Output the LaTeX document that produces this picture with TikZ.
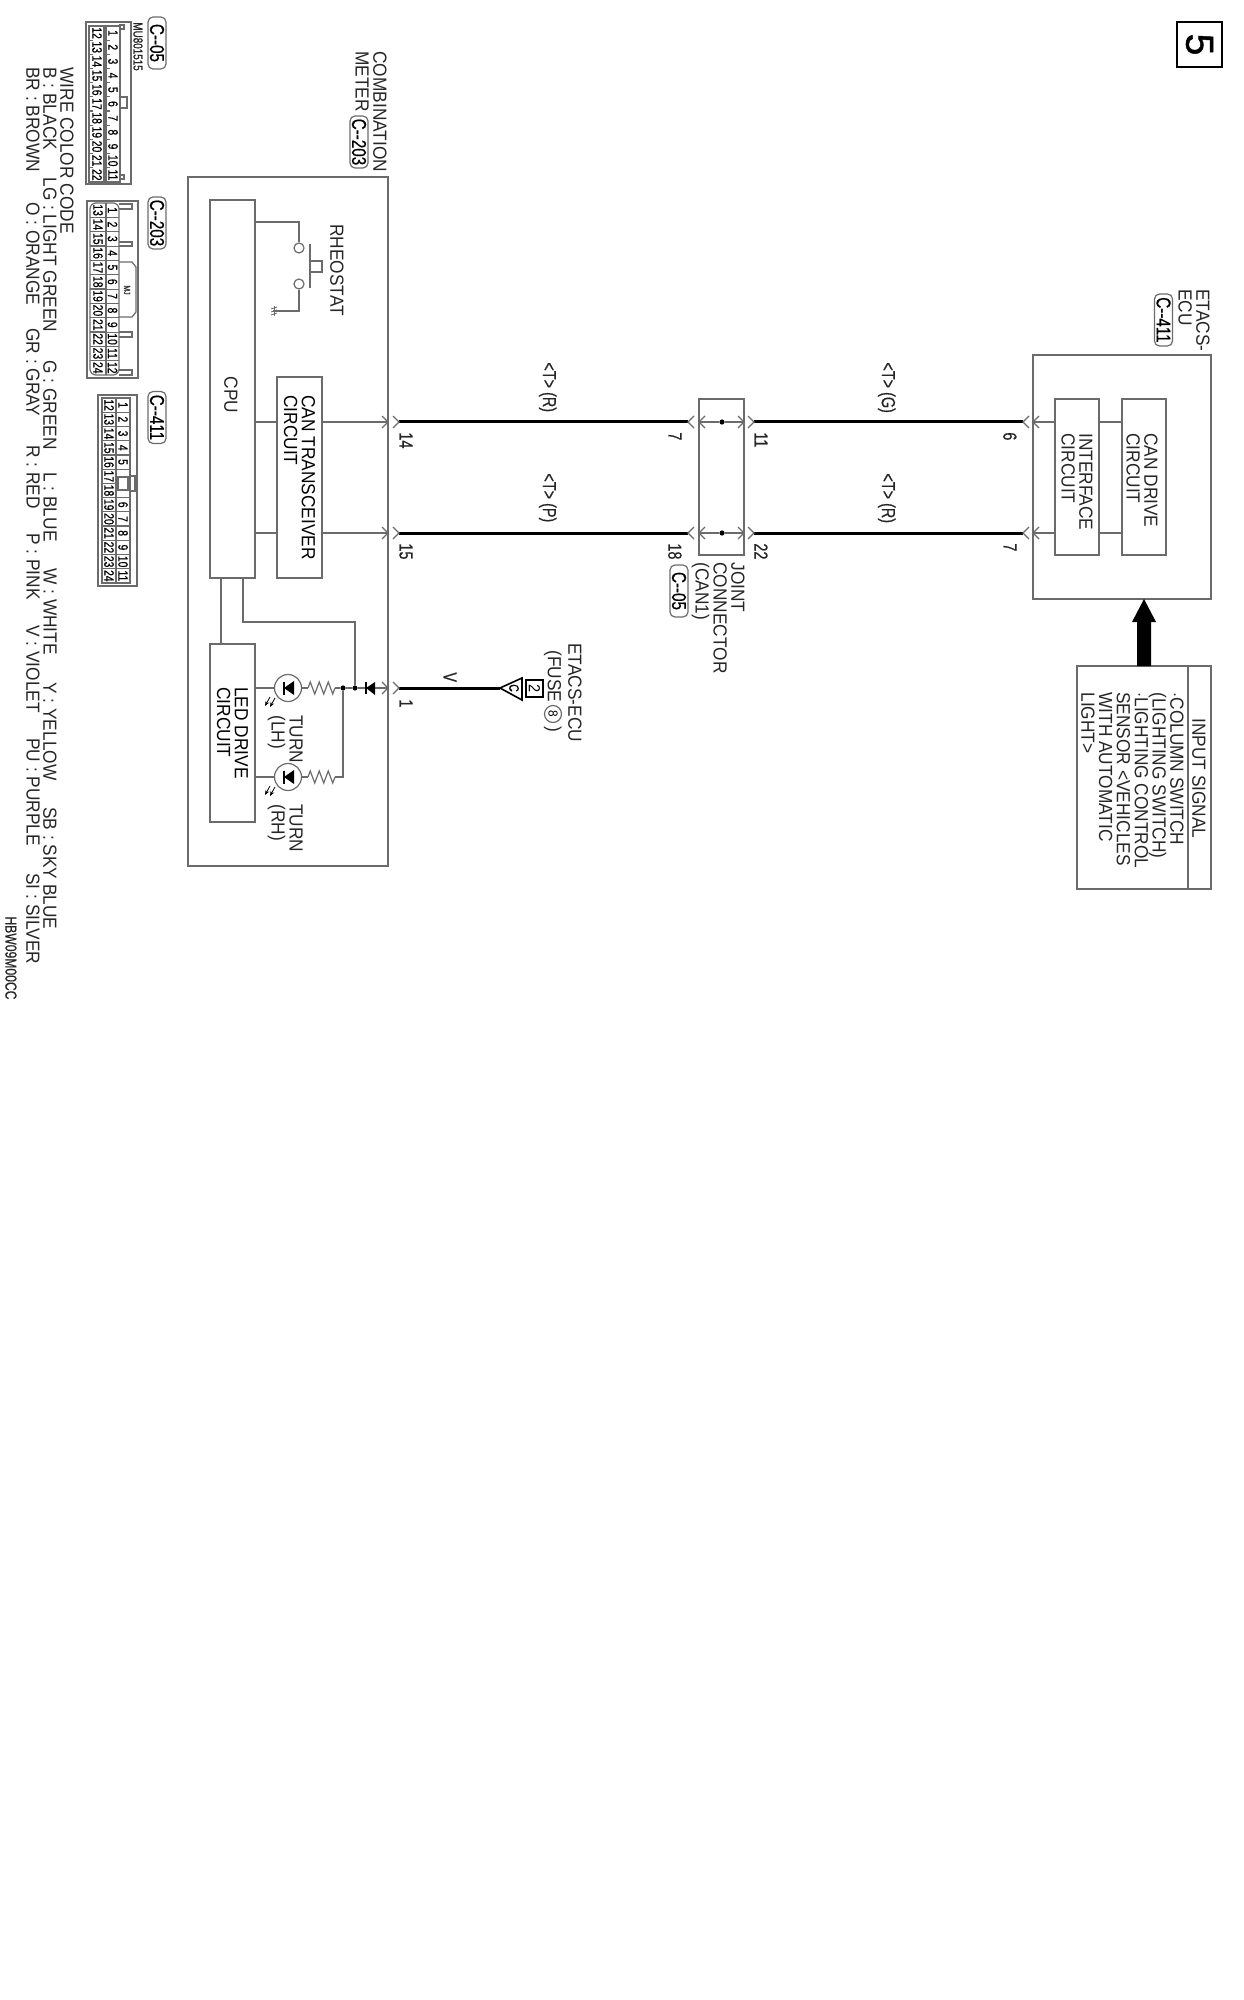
\documentclass[tikz,border=0pt]{standalone}
\usepackage{fontspec}
\setmainfont[FakeStretch=0.91]{Liberation Sans}
\newfontfamily\pinfont[FakeStretch=0.76,FakeBold=0.6]{Liberation Sans}
\newfontfamily\numfont[FakeBold=1.2]{Liberation Sans}
\usetikzlibrary{arrows.meta,decorations.pathmorphing}
\definecolor{linegray}{gray}{0.42}
\tikzset{
    thinline/.style={draw=linegray, line width=0.6pt},
    wire/.style={draw=black, line width=1.5pt},
    blk/.style={thinline, rotate=-90, inner sep=0pt, align=left, font=\fontsize{9.5}{8.9}\selectfont},
    lab/.style={rotate=-90, anchor=north west, inner sep=0pt, align=left, font=\fontsize{9.5}{8.9}\selectfont, text=black!85},
    pinlab/.style={lab, font=\fontsize{9.5}{9}\pinfont\selectfont},
    tagbox/.style={thinline, rotate=-90, rounded corners=2.5pt, minimum width=26pt, minimum height=9pt, inner sep=0pt, font=\fontsize{10}{9}\pinfont\selectfont},
    dotnode/.style={circle, fill=black, inner sep=0pt, minimum size=2.6pt},
    cellnum/.style={rotate=-90, inner sep=0pt, font=\fontsize{6.8}{6.8}\pinfont\selectfont},
    smallbold/.style={lab, font=\fontsize{6.5}{6.5}\pinfont\selectfont}
}
\begin{document}
\begin{tikzpicture}[x=0.5pt,y=-0.5pt]
    \useasboundingbox (0,0) rectangle (1243,2000);

    % Number box
    \node[draw=black, line width=1pt, rotate=-90, minimum size=22.5pt, inner sep=0pt, font=\fontsize{19.5}{20}\numfont\selectfont] (numbox) at (1199.5,44.5) {5};

    % Combination meter
    \node[blk, minimum width=344.5pt, minimum height=100pt] (meter) at (288,521.5) {};
    \node[blk, minimum width=189pt, minimum height=22.5pt] (cpu) at (232.5,389) {};
    \node[lab, anchor=center] (cputxt) at (231,395) {CPU};
    \node[blk, minimum width=100.5pt, minimum height=22.5pt] (can) at (299.5,477.5) {CAN TRANSCEIVER\\CIRCUIT};
    \node[blk, minimum width=89pt, minimum height=22.5pt] (led) at (232.5,733) {LED DRIVE\\CIRCUIT};
    \node[lab] (metertxt) at (387,51) {COMBINATION\\METER};
    \node[tagbox] (tagmeter) at (359,142) {C--203};

    % Pins on the three lines
    \coordinate (m14) at (388,422);
    \coordinate (m15) at (388,533);
    \coordinate (m1) at (388,688);
    \coordinate (w14) at (399,422);
    \coordinate (w15) at (399,533);
    \coordinate (w1) at (399,688);
    \coordinate (w7) at (688,422);
    \coordinate (w18) at (688,533);
    \coordinate (w11) at (754,422);
    \coordinate (w22) at (754,533);
    \coordinate (w6) at (1023,422);
    \coordinate (w7b) at (1023,533);
    \coordinate (fusetip) at (500,688);

    \draw[thinline] (cpu.north |- m14) -- (can.south |- m14);
    \draw[thinline] (cpu.north |- m15) -- (can.south |- m15);
    \draw[thinline] (can.north |- m14) -- (m14);
    \draw[thinline] (can.north |- m15) -- (m15);
    \draw[wire] (w14) -- (w7);
    \draw[wire] (w15) -- (w18);
    \draw[wire] (w11) -- (w6);
    \draw[wire] (w22) -- (w7b);
    \draw[wire] (w1) -- (fusetip);

    % CPU to LED drive
    \coordinate (cpuled) at (221,611);
    \draw[thinline] (cpu.east -| cpuled) -- (led.west -| cpuled);

    % Rheostat
    \node[circle, thinline, minimum size=5pt, inner sep=0pt] (rhA) at (299,248) {};
    \node[circle, thinline, minimum size=5pt, inner sep=0pt] (rhB) at (299,284) {};
    \coordinate (rhtop) at (299,222);
    \coordinate (rhgnd) at (273,311);
    \draw[thinline] (cpu.north |- rhtop) -- (rhtop) -- (rhA);
    \draw[thinline] (rhB) -- (rhB |- rhgnd) -- (rhgnd);
    \draw[thinline] (310,244) -- (310,288);
    \draw[thinline] (310,261) -- (322,261) -- (322,272) -- (310,272);
    \draw[thinline, line width=0.5pt] (274,306) -- (274,316);
    \foreach \g in {307,310,313} \draw[thinline, line width=0.4pt] (271,\g+2) -- (277,\g);
    \node[lab] (rhtxt) at (344,224) {RHEOSTAT};

    % Turn lamps
    \node[circle, thinline, minimum size=13.5pt, inner sep=0pt] (turnL) at (288,688) {};
    \node[circle, thinline, minimum size=13.5pt, inner sep=0pt] (turnR) at (288,777) {};
    \coordinate (resLa) at (308,688);
    \coordinate (resLb) at (335,688);
    \coordinate (resRa) at (308,777);
    \coordinate (resRb) at (335,777);
    \node[dotnode] (jn1) at (343,688) {};
    \node[dotnode] (jn2) at (355,688) {};
    \draw[thinline] (led.north |- turnL) -- (turnL);
    \draw[thinline] (led.north |- turnR) -- (turnR);
    \draw[thinline] (turnL) -- (resLa);
    \draw[thinline] (turnR) -- (resRa);
    \draw[thinline, decorate, decoration={zigzag, segment length=4.5pt, amplitude=3pt}] (resLa) -- (resLb);
    \draw[thinline, decorate, decoration={zigzag, segment length=4.5pt, amplitude=3pt}] (resRa) -- (resRb);
    \draw[thinline] (resLb) -- (jn1) -- (jn2) -- (m1);
    \draw[thinline] (resRb) -- (jn1 |- resRb) -- (jn1);
    \coordinate (cpujn) at (243,622);
    \draw[thinline] (cpu.east -| cpujn) -- (cpujn) -- (cpujn -| jn2) -- (jn2);
    \foreach \ly in {688,777} {
        \fill[black] (284,\ly) -- (294,\ly-7) -- (294,\ly+7) -- cycle;
        \draw[black, line width=0.7pt] (284,\ly-6.5) -- (284,\ly+6.5);
        \draw[black, line width=0.4pt, -{Stealth[length=2.5pt,width=2pt]}] (275,\ly+10) -- (270,\ly+19);
        \draw[black, line width=0.4pt, -{Stealth[length=2.5pt,width=2pt]}] (270,\ly+9) -- (265,\ly+18);
    }
    \fill[black] (366,688) -- (375,682) -- (375,695) -- cycle;
    \draw[black, line width=0.7pt] (366,682) -- (366,694);
    \node[lab] (turnLtxt) at (303,715) {TURN\\(LH)};
    \node[lab] (turnRtxt) at (303,804) {TURN\\(RH)};

    % Connector tips
    \foreach \cy in {422,533} {
        \foreach \cx in {388,399,744,754} \draw[thinline] (\cx-6,\cy-6) -- (\cx,\cy) -- (\cx-6,\cy+6);
        \foreach \cx in {688,699,1023,1033} \draw[thinline] (\cx+6,\cy-6) -- (\cx,\cy) -- (\cx+6,\cy+6);
    }
    \foreach \cx in {388,399} \draw[thinline] (\cx-6,682) -- (\cx,688) -- (\cx-6,694);

    % Joint connector
    \node[blk, minimum width=78pt, minimum height=22.5pt] (joint) at (721.5,477) {};
    \node[dotnode] (jdotA) at (722,422) {};
    \node[dotnode] (jdotB) at (722,533) {};
    \draw[thinline] (joint.south |- jdotA) -- (jdotA) -- (joint.north |- jdotA);
    \draw[thinline] (joint.south |- jdotB) -- (jdotB) -- (joint.north |- jdotB);
    \node[lab] (jointtxt) at (745,562) {JOINT\\CONNECTOR\\(CAN1)};
    \node[tagbox] (tagjoint) at (679,591) {C--05};

    % ETACS-ECU
    \node[blk, minimum width=122pt, minimum height=89pt] (etacs) at (1122,477) {};
    \node[blk, minimum width=78pt, minimum height=22pt] (iface) at (1077,477) {};
    \node[blk, minimum width=78pt, minimum height=22pt] (drive) at (1144,477) {};
    \node[lab] (ifacetxt) at (1093,433) {INTERFACE\\CIRCUIT};
    \node[lab] (drivetxt) at (1158,433) {CAN DRIVE\\CIRCUIT};
    \draw[thinline] (etacs.south |- w6) -- (iface.south |- w6);
    \draw[thinline] (etacs.south |- w7b) -- (iface.south |- w7b);
    \draw[thinline] (iface.north |- w6) -- (drive.south |- w6);
    \draw[thinline] (iface.north |- w7b) -- (drive.south |- w7b);
    \node[lab] (etacstxt) at (1210,289) {ETACS-\\ECU};
    \node[tagbox] (tagetacs) at (1163.5,320) {C--411};

    % Input signal
    \node[blk, minimum width=111.5pt, minimum height=67pt] (input) at (1144,777.5) {};
    \draw[thinline] (1188,666) -- (1188,889);
    \node[lab] (inputhead) at (1206,718) {INPUT SIGNAL};
    \node[lab] (inputtxt) at (1184,692) {$\cdot$COLUMN SWITCH\\(LIGHTING SWITCH)\\$\cdot$LIGHTING CONTROL\\SENSOR <VEHICLES\\WITH AUTOMATIC\\LIGHT>};
    \fill[black] (1137,666) -- (1137,622) -- (1132,622) -- (1144,599) -- (1156,622) -- (1151,622) -- (1151,666) -- cycle;

    % Fuse
    \draw[black, line width=0.8pt] (fusetip) -- (522,678) -- (522,700) -- cycle;
    \node[cellnum] (fusec) at (514,688) {C};
    \node[draw=black, line width=0.9pt, rotate=-90, minimum size=8.5pt, inner sep=0pt, font=\fontsize{8}{8}\selectfont] (fusebox) at (534.5,688.5) {2};
    \node[lab] (fusetxtA) at (582,643) {ETACS-ECU};
    \node[lab] (fusetxtB) at (562,650) {(FUSE};
    \node[circle, thinline, rotate=-90, minimum size=8.5pt, inner sep=0pt, font=\fontsize{6.5}{6.5}\selectfont] (fusenum) at (553,714) {8};
    \node[lab] (fusetxtC) at (562,726) {)};
    \node[pinlab] (vlab) at (457,672) {V};

    % Pin numbers and wire signals
    \foreach \px/\py/\pn [count=\i] in {413/432/14,413/543/15,413/699/1,682/432/7,682/543/18,768/432/11,768/543/22,1017/432/6,1017/543/7} {
        \node[pinlab] (pin\i) at (\px,\py) {\pn};
    }
    \foreach \px/\py/\sg [count=\i] in {557/362/R,557/473/P,896/362/G,896/473/R} {
        \node[pinlab] (sig\i) at (\px,\py) {<T> (\sg)};
    }

    % Connector C-05
    \node[tagbox] (tagA) at (157,43) {C--05};
    \node[smallbold] (partno) at (143,22) {MU801515};
    \draw[thinline] (86,22) rectangle (131,184);
    \draw[thinline] (89,26) rectangle (120,182);
    \draw[thinline] (104,26) -- (104,182);
    \draw[thinline] (106,26) -- (106,182);
    \foreach \n in {1,...,11} {
        \pgfmathtruncatemacro{\m}{\n+11}
        \node[cellnum] (aU\n) at (113,{26+14.18*(\n-0.5)}) {\n};
        \node[cellnum] (aL\n) at (97,{26+14.18*(\n-0.5)}) {\m};
    }
    \foreach \n in {1,...,10} {
        \draw[thinline] (106,{26+14.18*\n}) -- (110,{26+14.18*\n});
        \draw[thinline] (89,{26+14.18*\n}) -- (93,{26+14.18*\n});
    }
    \draw[thinline] (120,25) rectangle (124,29);
    \draw[thinline] (120,175) rectangle (124,179);
    \draw[thinline] (120,97) rectangle (127,108);

    % Connector C-203
    \node[tagbox] (tagB) at (157,223) {C--203};
    \draw[thinline] (87,201) rectangle (138,378);
    \draw[thinline, rounded corners=3pt] (119,203) -- (90,203) -- (90,375) -- (119,375) -- cycle;
    \draw[thinline] (106,203) -- (106,375);
    \foreach \n in {1,...,12} {
        \pgfmathtruncatemacro{\m}{\n+12}
        \node[cellnum] (bU\n) at (112.5,{203+14.33*(\n-0.5)}) {\n};
        \node[cellnum] (bL\n) at (98,{203+14.33*(\n-0.5)}) {\m};
    }
    \foreach \n in {1,...,11} {
        \draw[thinline] (90,{203+14.33*\n}) -- (106,{203+14.33*\n});
        \draw[thinline, line width=0.3pt] (106,{203+14.33*\n}) -- (119,{203+14.33*\n});
    }
    \foreach \ka/\kb in {204/209,242/246,332/337,370/375} \draw[thinline] (119,\ka) -- (132,\ka) -- (132,\kb) -- (119,\kb);
    \draw[thinline] (119,262) -- (132,262) -- (136,267) -- (136,312) -- (132,317) -- (119,317);
    \node[smallbold, anchor=center, font=\fontsize{4.5}{4.5}\pinfont\selectfont] (mj) at (127,290) {MJ};

    % Connector C-411
    \node[tagbox] (tagC) at (157,417.5) {C--411};
    \draw[thinline] (98,395) rectangle (137,586);
    \draw[thinline] (102,398) rectangle (130,583);
    \draw[thinline] (116,398) -- (116,583);
    \foreach \n in {1,...,13} {
        \pgfmathtruncatemacro{\m}{\n+11}
        \node[cellnum] (cL\n) at (109,{398+14.23*(\n-0.5)}) {\m};
    }
    \foreach \n in {1,...,12} \draw[thinline] (102,{398+14.23*\n}) -- (116,{398+14.23*\n});
    \foreach \n in {1,...,5} {
        \node[cellnum] (cU\n) at (123,{398+14.23*(\n-0.5)}) {\n};
        \draw[thinline] (116,{398+14.23*\n}) -- (130,{398+14.23*\n});
    }
    \foreach \n in {6,...,11} {
        \pgfmathtruncatemacro{\k}{\n+2}
        \node[cellnum] (cU\n) at (123,{398+14.23*(\k-0.5)}) {\n};
        \draw[thinline] (116,{398+14.23*(\k-1)}) -- (130,{398+14.23*(\k-1)});
    }
    \draw[thinline] (118,477) rectangle (128,490);
    \draw[thinline] (130,476) rectangle (135,491);

    % Wire color code
    \node[lab] (wcc) at (74,67) {WIRE COLOR CODE};
    \foreach \tx/\ty/\wtxt [count=\i] in {57/67/B : BLACK,57/177/LG : LIGHT GREEN,57/360/G : GREEN,57/472/L : BLUE,57/568/W : WHITE,57/682/Y : YELLOW,57/807/SB : SKY BLUE,40/67/BR : BROWN,40/202/O : ORANGE,40/328/GR : GRAY,40/445/R : RED,40/533/P : PINK,40/625/V : VIOLET,40/738/PU : PURPLE,40/873/SI : SILVER} {
        \node[lab] (wc\i) at (\tx,\ty) {\wtxt};
    }
    \node[smallbold, font=\fontsize{8}{8}\pinfont\selectfont] (drawno) at (17,916) {HBW09M00CC};
\end{tikzpicture}
\end{document}
